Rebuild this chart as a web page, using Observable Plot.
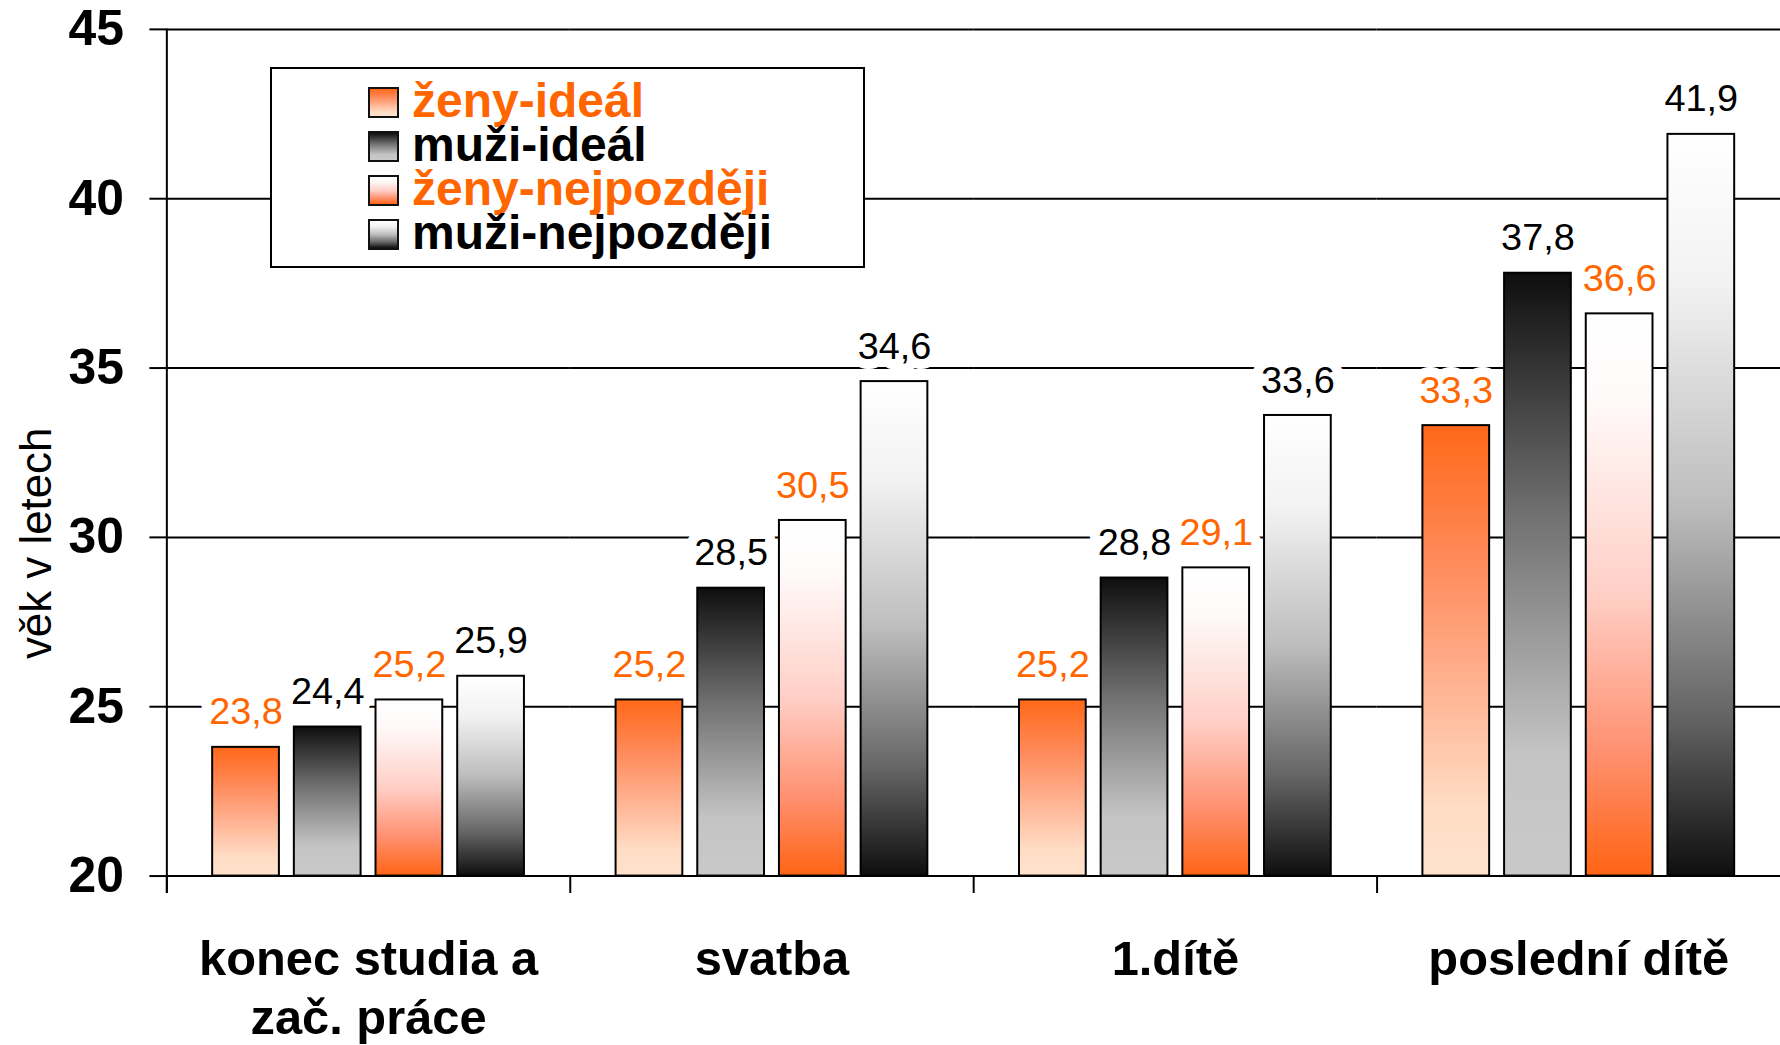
<!DOCTYPE html>
<html><head><meta charset="utf-8">
<script src="https://cdn.jsdelivr.net/npm/d3@7"></script>
<script src="https://cdn.jsdelivr.net/npm/@observablehq/plot@0.6"></script>
<style>
html,body{margin:0;padding:0;background:#fff;overflow:hidden;}
#wrap{position:relative;width:1780px;height:1045px;overflow:hidden;font-family:"Liberation Sans",Arial,Helvetica,sans-serif;background:#fff;}
#wrap svg{display:block;}
#legend{position:absolute;left:270px;top:67px;width:595px;height:201px;box-sizing:border-box;border:2px solid #000;background:#fff;}
.sw{position:absolute;left:96px;width:31px;height:31px;box-sizing:border-box;border:2px solid #111;}
.lt{position:absolute;left:140px;font-size:48px;line-height:40px;font-weight:bold;white-space:nowrap;}
</style></head><body><div id="wrap"></div>
<script>
// ---- data ----
const categories = ["konec studia a\nzač. práce", "svatba", "1.dítě", "poslední dítě"];
const series = ["ženy-ideál", "muži-ideál", "ženy-nejpozději", "muži-nejpozději"];
const zenyIdeal = [23.8, 25.2, 25.2, 33.3];
const muziIdeal = [24.4, 28.5, 28.8, 37.8];
const zenyNejpozdeji = [25.2, 30.5, 29.1, 36.6];
const muziNejpozdeji = [25.9, 34.6, 33.6, 41.9];
const yTicks = [20, 25, 30, 35, 40, 45];
const yBase = 20;
const yTitle = "věk v letech";

// ---- styles ----
const orange = "#ff6600";
const labelColors = [orange, "#000", orange, "#000"];
const gradientStops = [
  [[0, "#ff6818"], [0.3, "#ff8a5a"], [0.6, "#ffb696"], [0.85, "#ffdcc4"], [1, "#ffe2cc"]],
  [[0, "#0e0e0e"], [0.4, "#707070"], [0.8, "#c4c4c4"], [1, "#c9c9c9"]],
  [[0, "#ffffff"], [0.15, "#fffafa"], [0.5, "#ffcfc6"], [0.78, "#ff9070"], [1, "#ff6414"]],
  [[0, "#ffffff"], [0.2, "#f2f2f2"], [0.5, "#bdbdbd"], [0.78, "#666666"], [1, "#0e0e0e"]]
];
const font = "'Liberation Sans', Arial, Helvetica, sans-serif";

const valuesBySeries = [zenyIdeal, muziIdeal, zenyNejpozdeji, muziNejpozdeji];
const rows = categories.flatMap((c, i) => series.map((s, j) => ({cat: c, series: s, si: j, value: valuesBySeries[j][i]})));
const fmt = v => v.toFixed(1).replace(".", ",");

const labelOpts = {
  fx: "cat", x: "series", y: "value", text: d => fmt(d.value),
  lineAnchor: "bottom", dy: -23, fontSize: 38,
  stroke: "white", strokeWidth: 20, strokeLinejoin: "round", paintOrder: "stroke"
};

const plot = Plot.plot({
  width: 1787, height: 1045,
  marginLeft: 166, marginRight: 0, marginTop: 29, marginBottom: 166,
  style: {fontFamily: font, color: "#000", background: "transparent", overflow: "visible"},
  fx: {domain: categories, padding: 0, label: null, axis: null},
  x: {domain: series, paddingInner: 0.18, paddingOuter: 0.53, axis: null},
  y: {domain: [yTicks[0], yTicks[yTicks.length - 1]], label: null, axis: null},
  color: {type: "ordinal", domain: series, range: series.map((s, i) => `url(#grad${i})`)},
  marks: [
    Plot.gridY(yTicks, {stroke: "#000", strokeOpacity: 1, strokeWidth: 2}),
    Plot.axisY(yTicks, {anchor: "left", tickSize: 17, tickPadding: 26, fontSize: 50, fontWeight: "bold", strokeWidth: 2, label: null}),
    Plot.frame({anchor: "left", facetAnchor: "left", insetBottom: -16, strokeWidth: 2}),
    Plot.frame({anchor: "left", insetTop: 850, insetBottom: -16, strokeWidth: 2}),
    Plot.axisFx({anchor: "bottom", tickSize: 0, tickPadding: 58, fontSize: 49, fontWeight: "bold", lineHeight: 1.2, label: null}),
    Plot.barY(rows, {fx: "cat", x: "series", y1: yBase, y2: "value", fill: "series", stroke: "#000", strokeWidth: 2}),
    Plot.text(rows, {...labelOpts, fill: d => labelColors[d.si]}),
    Plot.text([yTitle], {frameAnchor: "left", facetAnchor: "left", textAnchor: "middle", rotate: -90, dx: -116, dy: 91, lineAnchor: "bottom", fontSize: 44, fill: "#000"})
  ]
});

// gradient definitions
const defs = d3.select(plot).insert("defs", ":first-child");
gradientStops.forEach((stops, i) => {
  const g = defs.append("linearGradient").attr("id", `grad${i}`).attr("x1", 0).attr("y1", 0).attr("x2", 0).attr("y2", 1);
  stops.forEach(([o, c]) => g.append("stop").attr("offset", o).attr("stop-color", c));
});

const wrap = document.getElementById("wrap");
wrap.appendChild(plot);

// legend (inside plot area, as in the reference)
const legend = document.createElement("div");
legend.id = "legend";
series.forEach((s, i) => {
  const sw = document.createElement("div");
  sw.className = "sw";
  sw.style.top = (18 + 44 * i) + "px";
  sw.style.background = `linear-gradient(to bottom, ${gradientStops[i].map(([o, c]) => `${c} ${o * 100}%`).join(", ")})`;
  legend.appendChild(sw);
  const t = document.createElement("span");
  t.className = "lt";
  t.style.top = (12 + 44 * i) + "px";
  t.style.color = labelColors[i];
  t.textContent = s;
  legend.appendChild(t);
});
wrap.appendChild(legend);
</script>
</body></html>
